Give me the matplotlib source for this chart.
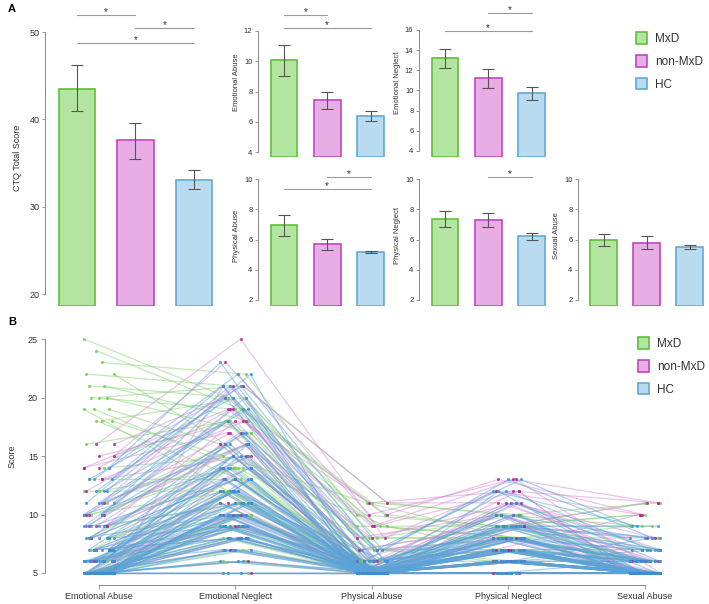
import numpy as np
import matplotlib.pyplot as plt
from matplotlib.patches import Patch

plt.rcParams['font.family'] = ['Liberation Sans', 'DejaVu Sans']

# ---- data ---------------------------------------------------------------
groups = ['MxD', 'non-MxD', 'HC']
scales = ['Emotional Abuse', 'Emotional Neglect', 'Physical Abuse',
          'Physical Neglect', 'Sexual Abuse']

# CTQ total score: mean and error bar ends
total_mean = [43.5, 37.6, 33.1]
total_lo = [41.0, 35.5, 32.0]
total_hi = [46.2, 39.6, 34.2]

# subscales: mean / lower / upper for MxD, non-MxD, HC
ea_mean, ea_lo, ea_hi = [10.05, 7.45, 6.4], [9.0, 6.85, 6.05], [11.1, 8.0, 6.7]
en_mean, en_lo, en_hi = [13.2, 11.2, 9.75], [12.2, 10.2, 9.1], [14.1, 12.1, 10.35]
pa_mean, pa_lo, pa_hi = [6.95, 5.7, 5.15], [6.2, 5.3, 5.08], [7.65, 6.05, 5.22]
pn_mean, pn_lo, pn_hi = [7.35, 7.3, 6.2], [6.8, 6.85, 5.95], [7.9, 7.75, 6.45]
sa_mean, sa_lo, sa_hi = [6.0, 5.8, 5.5], [5.6, 5.4, 5.35], [6.35, 6.2, 5.65]

# individual profiles  [EA, EN, PA, PN, SA]
mxd_profiles = [
    [25, 20, 11, 10, 11], [23, 22, 10, 9, 10], [22, 21, 9, 8, 9],
    [21, 18, 7, 9, 6], [21, 20, 8, 10, 5], [20, 17, 6, 7, 7],
    [20, 19, 9, 8, 5], [19, 16, 5, 9, 9], [19, 14, 7, 6, 5],
    [18, 15, 11, 8, 6], [18, 13, 5, 7, 5], [15, 18, 6, 9, 7],
    [12, 14, 9, 7, 5], [12, 12, 5, 6, 5], [10, 16, 5, 8, 6],
    [10, 12, 7, 6, 5], [9, 11, 5, 7, 5], [8, 14, 5, 6, 5],
    [8, 10, 5, 5, 5], [7, 13, 6, 8, 5], [7, 9, 5, 6, 5],
    [6, 11, 5, 6, 5], [6, 8, 5, 5, 5], [5, 10, 5, 7, 5],
    [5, 9, 5, 6, 5], [5, 7, 5, 5, 5], [5, 12, 5, 6, 5],
    [5, 6, 5, 5, 5], [5, 8, 5, 7, 5], [5, 5, 5, 5, 5],
    [5, 9, 5, 6, 5], [6, 10, 5, 5, 5], [5, 7, 5, 6, 5],
    [5, 11, 5, 5, 5], [5, 8, 5, 6, 5], [7, 12, 5, 7, 6],
    [24, 19, 10, 9, 10], [22, 16, 8, 8, 8], [20, 21, 11, 10, 9],
    [19, 12, 6, 7, 6], [18, 20, 9, 9, 11], [16, 18, 7, 8, 5],
    [14, 15, 6, 7, 7], [13, 13, 5, 6, 5], [11, 17, 8, 8, 6],
    [10, 14, 5, 6, 5], [8, 11, 5, 6, 5], [6, 9, 5, 5, 5],
    [5, 6, 5, 5, 5], [5, 10, 5, 6, 5],
]
nonmxd_profiles = [
    [16, 25, 8, 12, 10], [15, 23, 10, 13, 11], [14, 21, 11, 11, 7],
    [14, 19, 9, 13, 5], [13, 18, 8, 10, 6], [10, 17, 6, 12, 5],
    [10, 16, 5, 9, 11], [9, 19, 7, 8, 5], [9, 15, 5, 11, 6],
    [8, 18, 5, 9, 5], [7, 16, 6, 7, 5], [7, 12, 5, 8, 5],
    [6, 14, 5, 6, 5], [6, 10, 5, 7, 10], [5, 13, 5, 6, 5],
    [5, 9, 5, 5, 5], [5, 11, 5, 8, 5], [5, 8, 5, 6, 5],
    [5, 7, 5, 5, 5], [5, 6, 5, 7, 5], [5, 10, 5, 6, 5],
    [5, 5, 5, 5, 5], [6, 9, 5, 6, 5], [5, 12, 5, 7, 5],
    [7, 8, 5, 5, 5], [5, 21, 5, 11, 8], [9, 17, 5, 10, 5],
    [16, 20, 11, 12, 11], [15, 18, 10, 13, 10], [14, 17, 8, 11, 7],
    [13, 15, 6, 10, 6], [12, 19, 9, 12, 5], [11, 16, 7, 9, 8],
    [10, 21, 6, 11, 6], [9, 14, 5, 8, 5], [8, 13, 5, 9, 5],
    [7, 11, 5, 7, 5], [6, 9, 5, 6, 5], [5, 10, 5, 7, 5],
    [5, 8, 5, 6, 5], [6, 16, 5, 10, 6],
]
hc_profiles = [
    [14, 23, 6, 13, 8], [13, 22, 7, 12, 9], [13, 21, 5, 11, 7],
    [12, 21, 6, 10, 6], [11, 20, 5, 9, 9], [11, 19, 5, 12, 5],
    [10, 18, 6, 9, 8], [10, 17, 5, 8, 6], [9, 16, 5, 10, 5],
    [9, 15, 5, 9, 7], [8, 15, 5, 8, 5], [8, 14, 7, 7, 6],
    [8, 13, 5, 8, 5], [7, 14, 5, 6, 8], [7, 12, 5, 7, 5],
    [7, 12, 5, 9, 6], [7, 11, 5, 6, 5], [6, 13, 5, 7, 5],
    [6, 11, 5, 8, 7], [6, 10, 5, 6, 5], [6, 10, 6, 7, 5],
    [6, 9, 5, 6, 6], [6, 9, 5, 5, 5], [5, 12, 5, 7, 5],
    [5, 11, 5, 6, 6], [5, 11, 5, 8, 5], [5, 10, 5, 6, 5],
    [5, 10, 5, 7, 5], [5, 10, 5, 5, 5], [5, 9, 5, 6, 5],
    [5, 9, 5, 7, 5], [5, 9, 5, 5, 6], [5, 8, 5, 6, 5],
    [5, 8, 5, 7, 5], [5, 8, 5, 5, 5], [5, 8, 5, 6, 5],
    [5, 7, 5, 6, 5], [5, 7, 5, 5, 5], [5, 7, 5, 7, 5],
    [5, 6, 5, 5, 5], [5, 6, 5, 6, 5], [5, 5, 5, 5, 5],
    [5, 5, 5, 6, 5], [5, 9, 6, 6, 7], [5, 10, 5, 8, 5],
    [6, 8, 5, 6, 5], [7, 9, 5, 5, 5], [8, 10, 5, 7, 6],
    [5, 11, 5, 7, 5], [6, 12, 5, 6, 5], [5, 13, 5, 9, 6],
    [6, 11, 5, 7, 6], [5, 10, 5, 6, 5], [5, 9, 5, 8, 5],
    [5, 14, 5, 8, 5], [6, 15, 5, 9, 6], [7, 16, 5, 10, 5],
    [8, 17, 6, 9, 7], [9, 18, 5, 11, 6], [10, 20, 5, 10, 5],
    [11, 21, 6, 9, 8], [12, 19, 5, 8, 6], [13, 20, 7, 13, 9],
    [12, 22, 5, 12, 7], [9, 13, 5, 7, 5], [8, 12, 5, 6, 5],
    [7, 10, 5, 7, 6], [6, 9, 5, 6, 5], [5, 8, 5, 5, 5],
    [5, 7, 5, 6, 5], [5, 6, 5, 5, 5], [5, 5, 5, 5, 5],
    [5, 10, 5, 6, 5], [5, 12, 5, 8, 6], [6, 13, 5, 9, 5],
    [7, 15, 5, 8, 7], [5, 11, 5, 6, 5], [6, 10, 5, 7, 5],
    [5, 9, 5, 6, 5], [5, 8, 5, 7, 6], [6, 7, 5, 5, 5],
    [7, 8, 5, 6, 5], [8, 9, 5, 7, 5], [9, 11, 6, 8, 6],
    [10, 14, 5, 9, 7], [11, 16, 5, 10, 8], [5, 14, 5, 7, 5],
    [6, 16, 5, 8, 6], [5, 15, 5, 9, 5], [5, 13, 5, 7, 5],
    [6, 12, 5, 6, 5], [5, 11, 5, 8, 5], [5, 10, 5, 7, 5],
    [7, 13, 5, 8, 6],
]

fill_cols = ['#b3e5a0', '#e8ade4', '#b9dbef']
edge_cols = ['#5fbf3b', '#bf48bf', '#62a9d3']
line_cols = ['#86d46e', '#d68ad6', '#5aa3d8']
point_cols = ['#79cc55', '#b3229c', '#3b8fd6']

W, H = 709, 604
fig = plt.figure(figsize=(W / 100, H / 100), dpi=100)


def px_axes(l, t, r, b):
    return fig.add_axes([l / W, 1 - b / H, (r - l) / W, (b - t) / H])


def bar_panel(ax, mean, lo, hi, ylim, ticks, label, sig, xlim=(0.4, 3.45)):
    x = np.arange(1, 4)
    ax.bar(x, np.array(mean) - ylim[0], bottom=ylim[0], width=0.62,
           color=fill_cols, edgecolor=edge_cols, linewidth=1.2, zorder=2)
    ax.errorbar(x, mean, yerr=[np.array(mean) - lo, np.array(hi) - mean],
                fmt='none', ecolor='#555555', elinewidth=0.8, capsize=4,
                capthick=0.8, zorder=3)
    for (a, b), y in sig:
        ax.plot([x[a], x[b]], [y, y], color='#9a9a9a', lw=0.8,
                clip_on=False)
        ax.text((x[a] + x[b]) / 2, y, '*', ha='center', va='baseline',
                fontsize=7, color='#333333')
    ax.set_xlim(*xlim)
    ax.set_ylim(*ylim)
    ax.set_yticks(ticks)
    ax.spines[['top', 'right', 'bottom']].set_visible(False)
    ax.spines['left'].set_bounds(ticks[0], ticks[-1])
    ax.spines['left'].set_color('#888888')
    ax.spines['left'].set_linewidth(0.7)
    ax.set_xticks([])
    ax.tick_params(axis='y', labelsize=5.5, length=2.5, width=0.6,
                   color='#888888', labelcolor='#333333', pad=1.5)
    ax.set_ylabel(label, fontsize=5.5, color='#333333', labelpad=3)


# ---- panel A ------------------------------------------------------------
ax_tot = px_axes(45, 10, 223, 306)
bar_panel(ax_tot, total_mean, total_lo, total_hi, (18.63, 52.52),
          [20, 30, 40, 50], 'CTQ Total Score',
          [((0, 1), 51.95), ((1, 2), 50.46), ((0, 2), 48.74)],
          xlim=(0.453, 3.496))
ax_tot.tick_params(axis='y', labelsize=6.5)
ax_tot.set_ylabel('CTQ Total Score', fontsize=6.5, color='#333333',
                  labelpad=5)

ax_ea = px_axes(258, 8, 390, 157)
bar_panel(ax_ea, ea_mean, ea_lo, ea_hi, (3.67, 13.52), [4, 6, 8, 10, 12],
          'Emotional Abuse', [((0, 1), 13.06), ((0, 2), 12.2)])
ax_en = px_axes(419, 8, 551, 157)
bar_panel(ax_en, en_mean, en_lo, en_hi, (3.40, 18.18),
          [4, 6, 8, 10, 12, 14, 16], 'Emotional Neglect',
          [((1, 2), 17.69), ((0, 2), 15.9)])
ax_pa = px_axes(258, 165, 390, 306)
bar_panel(ax_pa, pa_mean, pa_lo, pa_hi, (1.60, 10.93), [2, 4, 6, 8, 10],
          'Physical Abuse', [((1, 2), 10.13), ((0, 2), 9.34)])
ax_pn = px_axes(419, 165, 551, 306)
bar_panel(ax_pn, pn_mean, pn_lo, pn_hi, (1.60, 10.93), [2, 4, 6, 8, 10],
          'Physical Neglect', [((1, 2), 10.13)])
ax_sa = px_axes(578, 165, 709, 306)
bar_panel(ax_sa, sa_mean, sa_lo, sa_hi, (1.60, 10.93), [2, 4, 6, 8, 10],
          'Sexual Abuse', [])

handles = [Patch(facecolor=f, edgecolor=e, linewidth=1.2)
           for f, e in zip(fill_cols, edge_cols)]
leg_kw = dict(loc='upper left', frameon=False, fontsize=8.5,
              handlelength=0.9, handleheight=1.15, labelspacing=0.85,
              handletextpad=0.7, borderpad=0, labelcolor='#333333')
fig.legend(handles, groups, bbox_to_anchor=(630 / W, 1 - 26 / H), **leg_kw)

# ---- panel B ------------------------------------------------------------
ax_b = px_axes(45, 327, 700, 585)
all_profiles = [mxd_profiles, nonmxd_profiles, hc_profiles]
xs = np.arange(len(scales))


def jitter(i, g):
    return np.array([((i * 7 + k * 3 + g * 5) % 13 - 6) / 6 * 0.11
                     for k in range(len(scales))])


for g, profiles in enumerate(all_profiles):
    for i, row in enumerate(profiles):
        ax_b.plot(xs + jitter(i, g), row, color=line_cols[g], lw=0.9,
                  alpha=0.5, zorder=1 + g)
for g, profiles in enumerate(all_profiles):
    for i, row in enumerate(profiles):
        ax_b.plot(xs + jitter(i, g), row, 'o', color=point_cols[g], ms=2.2,
                  alpha=0.85, mec='none', zorder=5)

ax_b.set_xlim(-0.3956, 4.403)
ax_b.set_ylim(3.974, 26.03)
ax_b.set_xticks(xs)
ax_b.set_xticklabels(scales)
ax_b.set_yticks([5, 10, 15, 20, 25])
ax_b.spines[['top', 'right']].set_visible(False)
ax_b.spines['left'].set_bounds(5, 25)
ax_b.spines['bottom'].set_bounds(0, 4)
for s in ['left', 'bottom']:
    ax_b.spines[s].set_color('#888888')
    ax_b.spines[s].set_linewidth(0.7)
ax_b.tick_params(labelsize=6.5, length=3, width=0.6, color='#888888',
                 labelcolor='#333333', pad=2)
ax_b.set_ylabel('Score', fontsize=6.5, color='#333333', labelpad=8)
fig.legend(handles, groups, bbox_to_anchor=(632 / W, 1 - 331 / H), **leg_kw)

fig.text(8 / W, 1 - 9 / H, 'A', fontsize=8, fontweight='bold', va='center')
fig.text(8 / W, 1 - 322 / H, 'B', fontsize=8, fontweight='bold',
         va='center')

fig.savefig('out.png', dpi=100)
